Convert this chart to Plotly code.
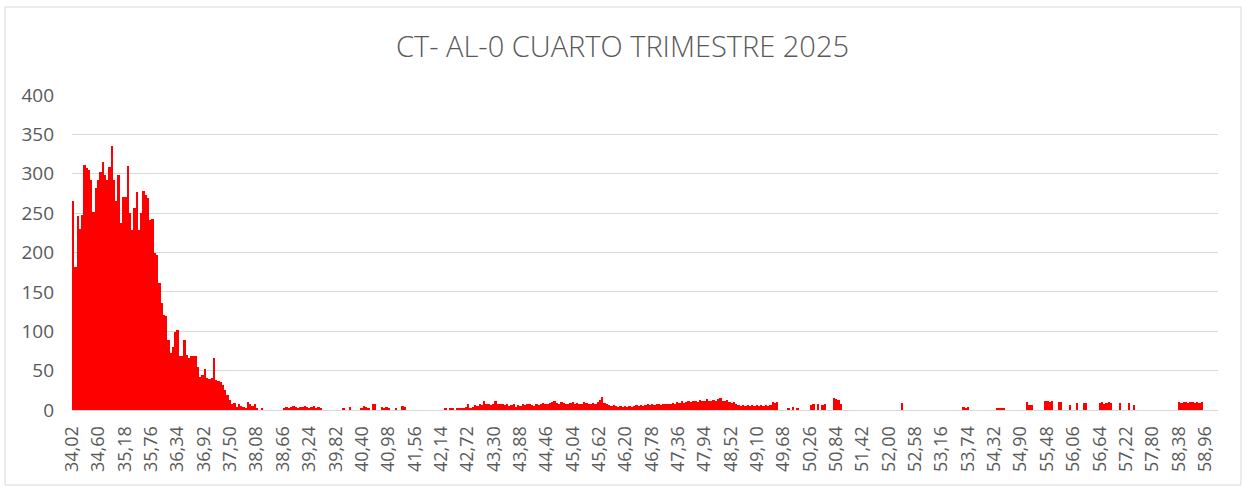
import plotly.graph_objects as go

# ---------------- data ----------------
bin_start = 34.04          # centre of first 0.05-wide bin (34.015 - 34.065)
bin_width = 0.05

# main body of the distribution, consecutive 0.05 bins from 34.02
main_counts = [265, 182, 246, 230, 248, 311, 307, 305, 292, 252,
               282, 292, 302, 315, 298, 292, 309, 335, 292, 265,
               298, 237, 270, 270, 310, 250, 229, 256, 277, 229,
               250, 278, 273, 269, 241, 243, 199, 197, 161, 136,
               121, 119, 89, 72, 80, 99, 101, 68, 68, 89,
               70, 66, 68, 68, 68, 55, 42, 44, 52, 41,
               39, 41, 66, 38, 37, 35, 32, 26, 19, 13,
               8, 9, 4, 8, 5, 4, 3, 10, 8, 5,
               8, 3]

# sparse tail (bin centre, count)
tail_x = [38.19,
          38.69, 38.74, 38.79, 38.84, 38.89, 38.94, 38.99, 39.04, 39.09, 39.14,
          39.19, 39.24, 39.29, 39.34, 39.39, 39.44, 39.49,
          39.99, 40.14, 40.39, 40.44, 40.49, 40.54, 40.64, 40.69,
          40.84, 40.89, 40.94, 40.99, 41.14, 41.29, 41.34,
          42.24, 42.34, 42.39, 42.49, 42.54, 42.59,
          42.64, 42.69, 42.74, 42.79, 42.84, 42.89, 42.94, 42.99, 43.04, 43.09,
          43.14, 43.19, 43.24, 43.29, 43.34, 43.39, 43.44, 43.49, 43.54, 43.59,
          43.64, 43.69, 43.74, 43.79, 43.84, 43.89, 43.94, 43.99, 44.04, 44.09,
          44.14, 44.19, 44.24, 44.29, 44.34, 44.39, 44.44, 44.49, 44.54, 44.59,
          44.64, 44.69, 44.74, 44.79, 44.84, 44.89, 44.94, 44.99, 45.04, 45.09,
          45.14, 45.19, 45.24, 45.29, 45.34, 45.39, 45.44, 45.49, 45.54, 45.59,
          45.64, 45.69, 45.74, 45.79, 45.84, 45.89, 45.94, 45.99, 46.04, 46.09,
          46.14, 46.19, 46.24, 46.29, 46.34, 46.39, 46.44, 46.49, 46.54, 46.59,
          46.64, 46.69, 46.74, 46.79, 46.84, 46.89, 46.94, 46.99, 47.04, 47.09,
          47.14, 47.19, 47.24, 47.29, 47.34, 47.39, 47.44, 47.49, 47.54, 47.59,
          47.64, 47.69, 47.74, 47.79, 47.84, 47.89, 47.94, 47.99, 48.04, 48.09,
          48.14, 48.19, 48.24, 48.29, 48.34, 48.39, 48.44, 48.49, 48.54, 48.59,
          48.64, 48.69, 48.74, 48.79, 48.84, 48.89, 48.94, 48.99, 49.04, 49.09,
          49.14, 49.19, 49.24, 49.29, 49.34, 49.39, 49.44, 49.49, 49.54,
          49.79, 49.89, 49.99, 50.29, 50.34, 50.44, 50.54, 50.59,
          50.79, 50.84, 50.89, 50.94, 52.29, 53.64, 53.69, 53.74,
          54.39, 54.44, 54.49, 54.54, 55.04, 55.09, 55.14,
          55.44, 55.49, 55.54, 55.59, 55.74, 55.79, 55.99, 56.14, 56.29, 56.34,
          56.64, 56.69, 56.74, 56.79, 56.84, 56.89, 57.09, 57.29, 57.39,
          58.39, 58.44, 58.49, 58.54, 58.59, 58.64, 58.69, 58.74, 58.79, 58.84, 58.89]
tail_counts = [2,
               3, 4, 3, 4, 5, 4, 3, 4, 4, 5,
               4, 3, 4, 5, 3, 4, 3,
               2, 4, 3, 5, 4, 3, 8, 7,
               4, 3, 4, 3, 2, 5, 4,
               2, 3, 2, 3, 2, 3,
               3, 4, 7, 3, 4, 6, 5, 8, 6, 11,
               7, 8, 6, 7, 11, 8, 7, 8, 6, 7,
               5, 6, 8, 4, 6, 5, 7, 6, 8, 7,
               6, 5, 7, 6, 8, 9, 7, 8, 9, 10,
               12, 9, 8, 10, 9, 7, 8, 9, 10, 8,
               9, 7, 8, 10, 9, 8, 7, 9, 8, 10,
               13, 16, 9, 7, 6, 5, 6, 5, 4, 5,
               4, 5, 4, 5, 4, 5, 6, 5, 6, 5,
               6, 7, 6, 8, 6, 7, 8, 6, 7, 8,
               7, 8, 9, 8, 10, 9, 11, 9, 10, 12,
               10, 11, 12, 10, 13, 11, 12, 14, 12, 11,
               13, 12, 14, 15, 12, 11, 13, 10, 9, 10,
               8, 6, 5, 6, 5, 6, 5, 6, 5, 6,
               5, 6, 5, 6, 5, 6, 10, 9, 10,
               3, 4, 3, 6, 7, 8, 6, 7,
               15, 14, 13, 8, 9, 4, 3, 4,
               3, 2, 3, 2, 10, 6, 6,
               11, 11, 10, 11, 10, 10, 6, 9, 9, 9,
               9, 10, 7, 9, 10, 9, 9, 9, 6,
               10, 9, 10, 10, 9, 10, 10, 9, 10, 9, 10]

tick_values = [34.02 + 0.58 * k for k in range(44)]
tick_labels = [f"{v:.2f}".replace(".", ",") for v in tick_values]
y_ticks = [0, 50, 100, 150, 200, 250, 300, 350, 400]

title_text = "CT- AL-0 CUARTO TRIMESTRE 2025"

# ---------------- figure ----------------
main_x = [round(bin_start + bin_width * i, 2) for i in range(len(main_counts))]
xs = main_x + tail_x
ys = main_counts + tail_counts

W, H = 1245, 486
L, R, T, B = 72, 1218, 95, 410   # plot area in pixels

fig = go.Figure(go.Bar(
    x=xs, y=ys, width=bin_width,
    marker=dict(color="#ff0000", line=dict(width=0)),
    hoverinfo="x+y",
))

def px2paper_x(p):
    return (p - L) / (R - L)

def px2paper_y(p):
    return (B - p) / (B - T)

fig.update_layout(
    width=W, height=H,
    margin=dict(l=L, r=W - R, t=T, b=H - B, pad=0, autoexpand=False),
    paper_bgcolor="white", plot_bgcolor="white",
    bargap=0,
    showlegend=False,
    title=dict(text=title_text, x=0.5, xanchor="center",
               y=1 - 47 / H, yanchor="middle",
               font=dict(family="Open Sans", size=29, weight=300, color="#595959")),
    font=dict(family="Open Sans", color="#595959"),
    xaxis=dict(range=[34.015, 59.245], tickmode="array",
               tickvals=tick_values, ticktext=tick_labels,
               tickangle=-90, tickfont=dict(size=18, color="#595959"),
               showgrid=False, zeroline=False, showline=True,
               linecolor="#d9d9d9", linewidth=1, ticks="",
               ticklabelstandoff=8, automargin=False),
    yaxis=dict(range=[0, 400], tickvals=y_ticks,
               tickfont=dict(size=19, color="#595959"),
               showgrid=True, gridcolor="#d9d9d9", gridwidth=1,
               zeroline=False, showline=False, ticks="",
               ticklabelstandoff=17, automargin=False),
    shapes=[dict(type="rect", xref="paper", yref="paper",
                 x0=px2paper_x(5), x1=px2paper_x(1241),
                 y0=px2paper_y(485), y1=px2paper_y(7),
                 line=dict(color="#d9d9d9", width=1), layer="below")],
)

fig.write_html("out.html",
               config={"displayModeBar": False},
               post_script="document.body.style.margin='0';document.body.style.overflow='hidden';")
